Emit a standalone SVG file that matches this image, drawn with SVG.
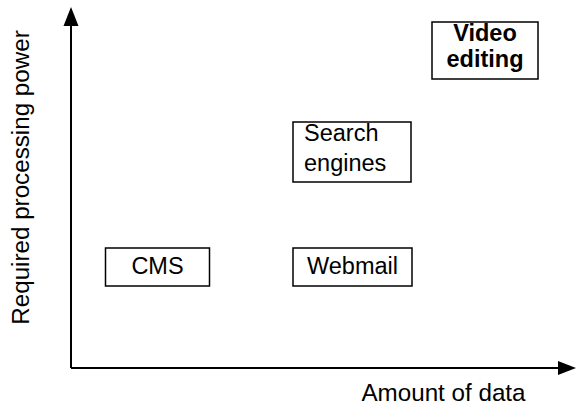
<svg xmlns="http://www.w3.org/2000/svg" width="576" height="409" viewBox="0 0 576 409">
<defs>
<style>
text{font-family:"Liberation Sans",Arial,Helvetica,sans-serif;font-size:23.5px;fill:#000}
.box{fill:#fff;stroke:#000;stroke-width:1.5}
.bold{font-weight:bold}
.axis{stroke:#000;stroke-width:2;fill:none}
</style>
</defs>
<rect width="576" height="409" fill="#fff"/>
<g id="axes">
<line class="axis" x1="71" y1="368" x2="71" y2="24"/>
<polygon points="71,7 63.5,26 78.5,26" fill="#000"/>
<line class="axis" x1="71" y1="368" x2="560" y2="368"/>
<polygon points="576,368 558,361 558,375" fill="#000"/>
</g>
<g id="label-y"><text x="28.5" y="177.5" text-anchor="middle" style="font-size:24.2px" transform="rotate(-90 28.5 177.5)">Required processing power</text></g>
<g id="label-x"><text x="443.5" y="401" text-anchor="middle" style="font-size:24.2px">Amount of data</text></g>
<g id="video">
<rect class="box" x="432" y="22" width="106" height="57" stroke-width="2"/>
<text class="bold" x="485" y="41" text-anchor="middle">Video</text>
<text class="bold" x="485" y="67" text-anchor="middle">editing</text>
</g>
<g id="search">
<rect class="box" x="293" y="122" width="118" height="60"/>
<text x="304" y="141">Search</text>
<text x="304" y="171">engines</text>
</g>
<g id="cms">
<rect class="box" x="105.5" y="248" width="104" height="38"/>
<text x="157.5" y="274" text-anchor="middle">CMS</text>
</g>
<g id="webmail">
<rect class="box" x="293" y="248" width="119" height="38"/>
<text x="352.5" y="274" text-anchor="middle">Webmail</text>
</g>
</svg>
